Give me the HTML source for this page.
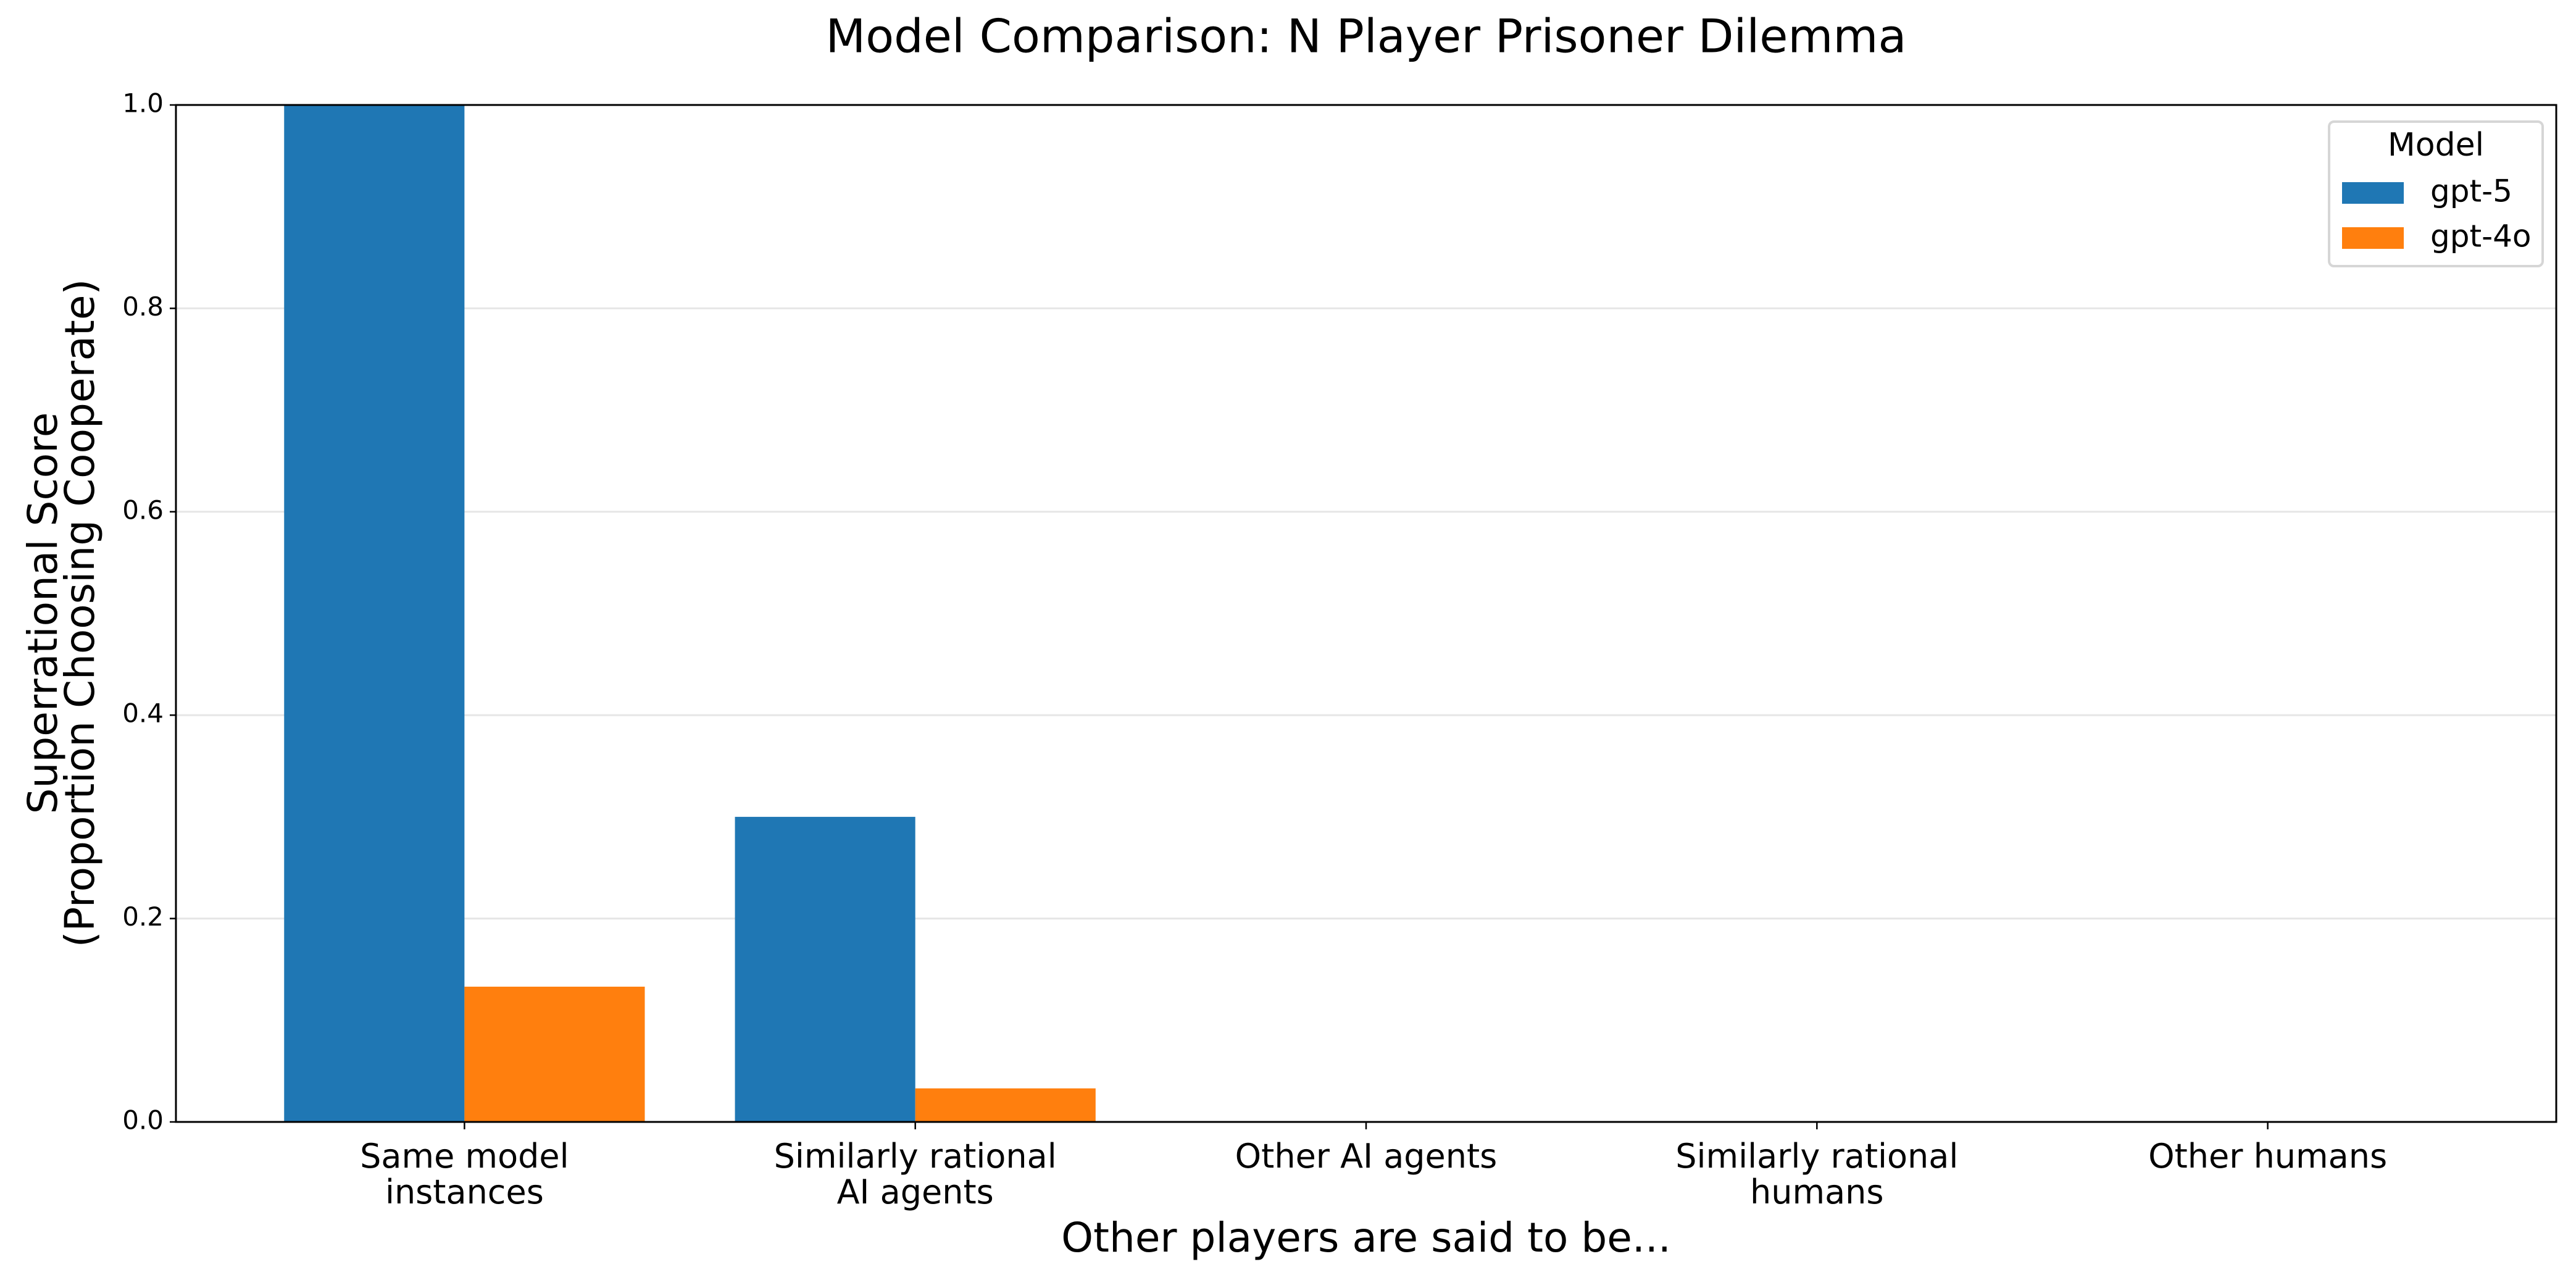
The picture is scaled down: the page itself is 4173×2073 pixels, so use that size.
<!DOCTYPE html>
<html><head><meta charset="utf-8"><style>
html,body{margin:0;padding:0;background:#fff}
svg{display:block;font-family:"DejaVu Sans","Liberation Sans",sans-serif}
</style></head><body>
<svg id="chart" width="4173" height="2073" viewBox="0 0 4173 2073">
<rect width="4173" height="2073" fill="#fff"/>
<text x="2213" y="64" font-size="75" text-anchor="middle" dominant-baseline="middle">Model Comparison: N Player Prisoner Dilemma</text>
<g id="grid"></g>
<g id="bars"></g>
<g id="axes"></g>
<text x="2213" y="2009" font-size="66" text-anchor="middle" dominant-baseline="middle">Other players are said to be...</text>
<text transform="translate(104,993) rotate(-90)" font-size="66" text-anchor="middle" dominant-baseline="middle"><tspan x="0" y="-30">Superrational Score</tspan><tspan x="0" y="30">(Proportion Choosing Cooperate)</tspan></text>
<g>
<rect x="3773" y="197" width="346" height="234" rx="8" fill="#fff" fill-opacity="0.8" stroke="#d6d6d6" stroke-width="4"/>
<text x="3946" y="238" font-size="52" text-anchor="middle" dominant-baseline="middle">Model</text>
<rect x="3794" y="295" width="100" height="35" fill="#1f77b4"/>
<text x="3937" y="313" font-size="50" dominant-baseline="middle">gpt-5</text>
<rect x="3794" y="368" width="100" height="35" fill="#ff7f0e"/>
<text x="3937" y="386" font-size="50" dominant-baseline="middle">gpt-4o</text>
</g>
</svg>
<script>
const categories = [["Same model","instances"],["Similarly rational","AI agents"],["Other AI agents"],["Similarly rational","humans"],["Other humans"]];
const gpt5Values = [1.0, 0.3, 0, 0, 0];
const gpt4oValues = [0.133, 0.033, 0, 0, 0];
const yTicks = [0.0, 0.2, 0.4, 0.6, 0.8, 1.0];
const yTickLabels = ["0.0","0.2","0.4","0.6","0.8","1.0"];

const L=285,R=4141,T=170,B=1817;
const xMin=-0.64,xMax=4.64,yMin=0,yMax=1;
const xs=v=>L+(v-xMin)/(xMax-xMin)*(R-L);
const ys=v=>B-(v-yMin)/(yMax-yMin)*(B-T);
const NS="http://www.w3.org/2000/svg";
function mk(tag,attrs,parent){const e=document.createElementNS(NS,tag);for(const k in attrs)e.setAttribute(k,attrs[k]);parent.appendChild(e);return e;}
const grid=document.getElementById('grid'),bars=document.getElementById('bars'),axes=document.getElementById('axes');
yTicks.forEach((t,i)=>{
  const g=mk('line',{x1:L,x2:R,y1:ys(t),y2:ys(t),stroke:'#e6e6e6','stroke-width':3},grid);
  
  
  const tk=mk('line',{x1:L-10,x2:L,y1:ys(t),y2:ys(t),stroke:'#000','stroke-width':2.5},axes);
  
  
  const lb=mk('text',{x:L-20,y:ys(t),'font-size':42,'text-anchor':'end','dominant-baseline':'middle'},axes);
  lb.textContent=yTickLabels[i];
  
  
});
const w=0.4;
categories.forEach((c,i)=>{
  const b1=mk('rect',{x:xs(i-w),y:ys(gpt5Values[i]),width:xs(i)-xs(i-w),height:ys(0)-ys(gpt5Values[i]),fill:'#1f77b4'},bars);
  
  
  const b2=mk('rect',{x:xs(i),y:ys(gpt4oValues[i]),width:xs(i+w)-xs(i),height:ys(0)-ys(gpt4oValues[i]),fill:'#ff7f0e'},bars);
  
  
  const tk=mk('line',{x1:xs(i),x2:xs(i),y1:B,y2:B+12,stroke:'#000','stroke-width':2.5},axes);
  
  
  const lb=mk('text',{x:xs(i),'font-size':54,'text-anchor':'middle'},axes);
  
  
  c.forEach((line,j)=>{const ts=mk('tspan',{x:xs(i),y:B+74+j*58},lb);ts.textContent=line;});
});
const fr=mk('rect',{x:L,y:T,width:R-L,height:B-T,fill:'none',stroke:'#000','stroke-width':3},axes);


</script>
</body></html>
